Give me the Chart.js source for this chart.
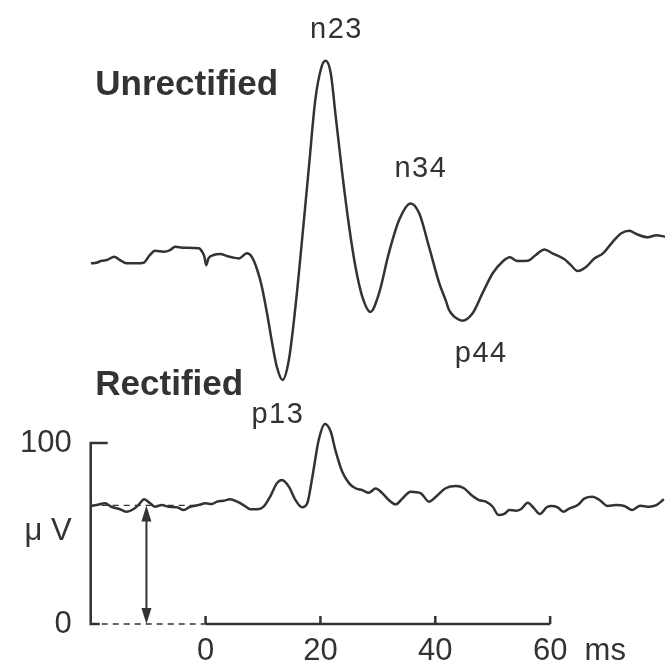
<!DOCTYPE html>
<html>
<head>
<meta charset="utf-8">
<script src="https://cdn.jsdelivr.net/npm/chart.js@4.4.1/dist/chart.umd.min.js"></script>
<style>
  html, body { margin: 0; padding: 0; background: #fff; }
  #wrap { width: 671px; height: 667px; }
</style>
</head>
<body>
<div id="wrap"><canvas id="vempChart" width="671" height="667"></canvas></div>
<script>
// time in ms, amplitude in µV
const unrectTime = [-20, -19, -18.1, -17.2, -15.9, -14.9, -13.8, -12, -10.8, -9.7, -8.8, -7.3, -6.2, -5.3, -3.8, -1.2, -0.6, -0.2, 0.1, 0.5,
    1.4, 2.6, 3.7, 4.6, 5.8, 7.2, 8.1, 9.0, 9.8, 10.7, 11.6, 12.4, 13.4, 14.5, 15.65, 16.8, 18.0, 19.1, 20.2, 20.9,
    21.8, 22.6, 23.8, 25.0, 26.1, 27.3, 28.7, 30.2, 31.9, 33.7, 35.7, 37.2, 38.9, 40.7, 41.8, 42.4, 43.3, 44.2, 44.7, 46.5,
    48.2, 50.0, 51.7, 53.0, 54.3, 56.1, 57.5, 59.0, 60.4, 62.5, 63.6, 64.8, 66.3, 67.7, 69.2, 70.9, 72.4, 73.8, 75.0, 77.0,
    78.5, 80];
const unrectAmp = [0.4, 0.7, 1.8, 2.2, 4.0, 2.2, 0.4, 0.4, 0.7, 5.0, 7.3, 6.8, 7.7, 9.6, 9.0, 8.7, 6.8, 4.0, -0.6, 3.1,
    5.0, 5.5, 4.4, 3.7, 3.1, 5.9, 3.7, -3.3, -12.5, -27.2, -43.8, -56.7, -64, -53, -23.6, 13.3, 53.8, 90.6, 109, 112.3,
    105.4, 83.3, 50.1, 20.6, -1.5, -18.1, -26.4, -16.2, 5.9, 24.3, 33.5, 28.0, 9.6, -10.7, -19.9, -25.4, -29.1, -30.9, -31.3, -27.2,
    -16.2, -5.1, 1.3, 3.7, 1.7, 1.8, 5.0, 8.1, 5.9, 2.6, -0.6, -3.9, -1.5, 3.1, 5.9, 12.3, 17.0, 18.4, 16.6, 14.8,
    15.9, 15.1];

const rectTime = [-20, -19, -17.5, -16.4, -14.9, -13.7, -12.6, -11.7, -10.7, -9.65, -8.8, -7.6, -6.5, -5.0, -3.8, -2.7, -1.2, 0, 1.1, 2.0,
    3.1, 4.3, 5.5, 6.6, 7.8, 9.0, 10.1, 11.3, 12.4, 13.3, 14.5, 15.65, 16.8, 17.7, 18.6, 19.7, 20.8, 21.8, 22.6, 23.8,
    25.0, 26.1, 27.3, 28.4, 29.6, 30.8, 31.9, 33.1, 34.3, 35.7, 37.5, 38.9, 40.1, 41.8, 43.6, 45.0, 46.5, 47.6, 48.8, 50.0,
    51.0, 52.0, 52.9, 54.0, 54.9, 56.1, 57.2, 58.2, 59.4, 60.2, 61.3, 62.3, 63.4, 64.8, 66.0, 67.4, 68.6, 70.0, 71.5, 72.9,
    74.3, 75.7, 77.2, 78.5, 79.8];
const rectAmp = [65.2, 65.7, 66.7, 64.8, 63.4, 62.0, 63.4, 65.7, 68.9, 66.7, 64.8, 65.7, 64.8, 64.5, 63.0, 64.8, 65.7, 66.7, 66.3, 67.6,
    68.1, 68.9, 67.6, 65.7, 63.4, 63.4, 64.8, 70.7, 77.7, 79.6, 75.9, 68.5, 64.5, 66.7, 81.4, 101.7, 110.5, 106.2, 96.1, 84.1,
    77.7, 75.0, 74.0, 72.5, 74.8, 72.2, 68.5, 66.1, 69.4, 73.1, 72.2, 67.6, 70.3, 75.0, 76.2, 75.0, 70.7, 68.5, 67.6, 64.8,
    60.2, 60.8, 63.0, 62.6, 63.4, 67.0, 63.9, 60.8, 64.5, 65.2, 64.5, 62.0, 63.9, 65.7, 69.4, 70.3, 68.5, 65.2, 65.7, 65.2,
    63.0, 65.4, 64.8, 65.7, 68.9];

const xTicks = [0, 20, 40, 60];
const yTicks = [0, 100];
const msTick = 69.6;       // where "ms" sits on the time axis
const unitTick = 51.4;     // where "μ V" sits on the amplitude axis
const baselineMean = 65.5; // mean rectified level before the stimulus
const arrowTime = -10.3;

const peakNames = ['n23', 'n34', 'p44', 'p13'];
const peakTimes = [22.8, 37.5, 48.0, 12.6];
const peakLevels = [124.9, 48.1, -54.1, 111.0];
const peakAxes = ['yU', 'yU', 'yU', 'y'];

const ink = '#333333';
const fontFamily = '"Liberation Sans", Arial, Helvetica, sans-serif';

function toPoints(xs, ys) {
    return xs.map((t, i) => ({ x: t, y: ys[i] }));
}

const extras = {
    id: 'extras',
    afterDatasetsDraw(chart) {
        const { ctx } = chart;
        const x = chart.scales.x, y = chart.scales.y, yU = chart.scales.yU;
        ctx.save();
        ctx.strokeStyle = ink;
        ctx.fillStyle = ink;
        ctx.lineWidth = 2.5;
        ctx.lineCap = 'butt';
        ctx.setLineDash([]);

        // bracket style amplitude axis (0 - 100 µV)
        const xLeft = x.getPixelForValue(x.min);
        const y0 = y.getPixelForValue(0);
        const y100 = y.getPixelForValue(100);
        ctx.beginPath();
        ctx.moveTo(xLeft + 17, y100);
        ctx.lineTo(xLeft, y100);
        ctx.lineTo(xLeft, y0);
        ctx.lineTo(xLeft + 9, y0);
        ctx.stroke();

        // time axis 0 - 60 ms with tick marks pointing up
        ctx.beginPath();
        ctx.moveTo(x.getPixelForValue(xTicks[0]), y0);
        ctx.lineTo(x.getPixelForValue(xTicks[xTicks.length - 1]), y0);
        xTicks.forEach(v => {
            const px = x.getPixelForValue(v);
            ctx.moveTo(px, y0);
            ctx.lineTo(px, y0 - 8);
        });
        ctx.stroke();

        // double headed arrow from 0 to the baseline level
        const ax = x.getPixelForValue(arrowTime);
        const aTop = y.getPixelForValue(baselineMean);
        ctx.lineWidth = 2;
        ctx.beginPath();
        ctx.moveTo(ax, aTop + 12);
        ctx.lineTo(ax, y0 - 12);
        ctx.stroke();
        ctx.beginPath();
        ctx.moveTo(ax, aTop);
        ctx.lineTo(ax - 5, aTop + 16);
        ctx.lineTo(ax + 5, aTop + 16);
        ctx.closePath();
        ctx.fill();
        ctx.beginPath();
        ctx.moveTo(ax, y0);
        ctx.lineTo(ax - 5, y0 - 16);
        ctx.lineTo(ax + 5, y0 - 16);
        ctx.closePath();
        ctx.fill();

        // trace titles
        ctx.font = 'bold 35px ' + fontFamily;
        ctx.textAlign = 'left';
        ctx.textBaseline = 'alphabetic';
        ctx.fillText('Unrectified', x.getPixelForValue(-19.2), yU.getPixelForValue(93.4));
        ctx.fillText('Rectified', x.getPixelForValue(-19.2), y.getPixelForValue(126.5));

        // peak names
        ctx.font = '29px ' + fontFamily;
        ctx.textAlign = 'center';
        if ('letterSpacing' in ctx) ctx.letterSpacing = '1.5px';
        peakNames.forEach((name, i) => {
            const scale = chart.scales[peakAxes[i]];
            ctx.fillText(name, x.getPixelForValue(peakTimes[i]), scale.getPixelForValue(peakLevels[i]));
        });
        ctx.restore();
    }
};

new Chart(document.getElementById('vempChart'), {
    type: 'line',
    data: {
        datasets: [{
            label: 'Unrectified',
            data: toPoints(unrectTime, unrectAmp),
            yAxisID: 'yU',
            borderColor: ink,
            borderWidth: 2.5,
            pointRadius: 0,
            cubicInterpolationMode: 'monotone'
        }, {
            label: 'Rectified',
            data: toPoints(rectTime, rectAmp),
            yAxisID: 'y',
            borderColor: ink,
            borderWidth: 2.5,
            pointRadius: 0,
            cubicInterpolationMode: 'monotone'
        }, {
            label: 'Zero',
            data: [{ x: -20, y: 0 }, { x: 0, y: 0 }],
            yAxisID: 'y',
            borderColor: ink,
            borderWidth: 1.5,
            borderDash: [6, 5],
            pointRadius: 0
        }, {
            label: 'Baseline',
            data: [{ x: -20, y: baselineMean }, { x: -1, y: baselineMean }],
            yAxisID: 'y',
            borderColor: ink,
            borderWidth: 1.2,
            borderDash: [6, 5],
            pointRadius: 0
        }]
    },
    options: {
        responsive: false,
        animation: false,
        devicePixelRatio: 1,
        layout: { padding: { left: 1, right: 6, top: 0, bottom: 0 } },
        plugins: {
            legend: { display: false },
            tooltip: { enabled: false }
        },
        scales: {
            x: {
                type: 'linear',
                min: -20,
                max: 80,
                grid: { display: false, drawTicks: false },
                border: { display: false },
                afterBuildTicks: axis => {
                    axis.ticks = xTicks.concat([msTick]).map(v => ({ value: v }));
                },
                ticks: {
                    autoSkip: false,
                    maxRotation: 0,
                    padding: 0,
                    color: ink,
                    font: { family: fontFamily, size: 31, lineHeight: 1.0 },
                    callback: v => (v === msTick ? 'ms' : String(v))
                }
            },
            y: {
                position: 'left',
                min: -6.63,
                max: 330.0,
                grid: { display: false, drawTicks: false },
                border: { display: false },
                afterBuildTicks: axis => {
                    axis.ticks = [yTicks[0], unitTick, yTicks[1]].map(v => ({ value: v }));
                },
                ticks: {
                    autoSkip: false,
                    padding: 19,
                    color: ink,
                    font: { family: fontFamily, size: 31, lineHeight: 0.5 },
                    callback: v => (v === unitTick ? 'μ V' : String(v))
                }
            },
            yU: {
                display: false,
                min: -205.5,
                max: 131.1
            }
        }
    },
    plugins: [extras]
});
</script>
</body>
</html>
